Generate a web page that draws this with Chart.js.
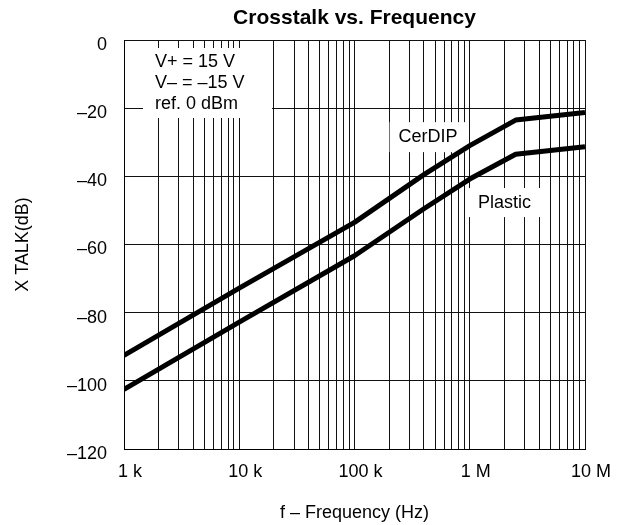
<!DOCTYPE html>
<html>
<head>
<meta charset="utf-8">
<script src="https://cdn.jsdelivr.net/npm/chart.js@4/dist/chart.umd.min.js"></script>
<style>
  html, body { margin: 0; padding: 0; background: #fff; }
  canvas { display: block; }
</style>
</head>
<body>
<canvas id="xtalk" width="625" height="525"></canvas>
<script>
// frequencies (Hz)
const freqs = [1e3, 1e4, 1e5, 4e5, 1e6, 2.5e6, 1e7];
// crosstalk (dB)
const cerdip = [-92.5, -72.8, -53.5, -39.5, -31, -23.5, -21.3];
const plastic = [-102.5, -82.8, -63.3, -49.5, -40.8, -33.5, -31.3];

const decadeLabels = { 1e3: "1 k", 1e4: "10 k", 1e5: "100 k", 1e6: "1 M", 1e7: "10 M" };
const yTicks = [0, -20, -40, -60, -80, -100, -120];
const chartTitle = "Crosstalk vs. Frequency";
const noteLines = ["V+ = 15 V", "V\u2013 = \u201315 V", "ref. 0 dBm"];
const curveLabels = [
    { text: "CerDIP", x: 4.35e5, y: -28.5, w: 77, h: 30 },
    { text: "Plastic", x: 2e6, y: -47.7, w: 72, h: 29 }
];

const FONT = "'Liberation Sans', Arial, Helvetica, sans-serif";

function pts(ys) {
    return freqs.map((f, i) => ({ x: f, y: ys[i] }));
}

// title over the plot area + white boxes with the text notes
const notesPlugin = {
    id: "notes",
    beforeDatasetsDraw(chart) {
        const ctx = chart.ctx;
        const a = chart.chartArea;
        const xs = chart.scales.x, ys = chart.scales.y;
        ctx.save();
        ctx.textBaseline = "middle";

        ctx.font = "bold 21px " + FONT;
        ctx.fillStyle = "#000";
        ctx.textAlign = "center";
        ctx.fillText(chartTitle, (a.left + a.right) / 2, 18);

        ctx.font = "18px " + FONT;
        ctx.fillStyle = "#fff";
        ctx.fillRect(a.left + 19, a.top + 8, 129, 70);
        ctx.fillStyle = "#000";
        ctx.textAlign = "left";
        noteLines.forEach((t, i) => ctx.fillText(t, a.left + 31, a.top + 22 + i * 21));

        ctx.textAlign = "center";
        curveLabels.forEach(l => {
            const px = xs.getPixelForValue(l.x);
            const py = ys.getPixelForValue(l.y);
            ctx.fillStyle = "#fff";
            ctx.fillRect(px - l.w / 2, py - l.h / 2, l.w, l.h);
            ctx.fillStyle = "#000";
            ctx.fillText(l.text, px, py);
        });
        ctx.restore();
    }
};

new Chart(document.getElementById("xtalk"), {
    type: "line",
    data: {
        datasets: [
            { label: "CerDIP", data: pts(cerdip) },
            { label: "Plastic", data: pts(plastic) }
        ]
    },
    options: {
        responsive: false,
        animation: false,
        layout: { padding: { top: 40, right: 40, bottom: 0, left: 0 } },
        elements: {
            point: { radius: 0 },
            line: { borderColor: "#000", borderWidth: 5, tension: 0, borderJoinStyle: "round", fill: false }
        },
        plugins: {
            legend: { display: false },
            tooltip: { enabled: false },
            title: { display: false }
        },
        scales: {
            x: {
                type: "logarithmic",
                min: 1e3,
                max: 1e7,
                afterBuildTicks(scale) {
                    const t = [];
                    for (let d = 1e3; d < 1e7; d *= 10) {
                        for (let m = 1; m < 10; m++) t.push({ value: d * m });
                    }
                    t.push({ value: 1e7 });
                    scale.ticks = t;
                },
                afterFit(scale) { scale.height = 76; },
                grid: { color: "#111", lineWidth: 1, drawTicks: false },
                border: { color: "#000", width: 1 },
                ticks: {
                    autoSkip: false,
                    maxRotation: 0,
                    padding: 12,
                    labelOffset: 6,
                    color: "#000",
                    font: { family: FONT, size: 18 },
                    callback: v => decadeLabels[v] || ""
                },
                title: {
                    display: true,
                    text: "f \u2013 Frequency (Hz)",
                    color: "#000",
                    font: { family: FONT, size: 18 },
                    padding: { top: 4, bottom: 1 }
                }
            },
            y: {
                min: -120,
                max: 0,
                afterBuildTicks(scale) { scale.ticks = yTicks.map(v => ({ value: v })); },
                afterFit(scale) { scale.width = 124; },
                grid: { color: "#111", lineWidth: 1, drawTicks: false },
                border: { color: "#000", width: 1 },
                ticks: {
                    padding: 17,
                    labelOffset: 5,
                    color: "#000",
                    font: { family: FONT, size: 18 },
                    callback: v => (v < 0 ? "\u2013" + Math.abs(v) : String(v))
                },
                title: {
                    display: true,
                    text: "X TALK(dB)",
                    color: "#000",
                    font: { family: FONT, size: 18 },
                    padding: { top: 12, bottom: 0 }
                }
            }
        }
    },
    plugins: [notesPlugin]
});
</script>
</body>
</html>
